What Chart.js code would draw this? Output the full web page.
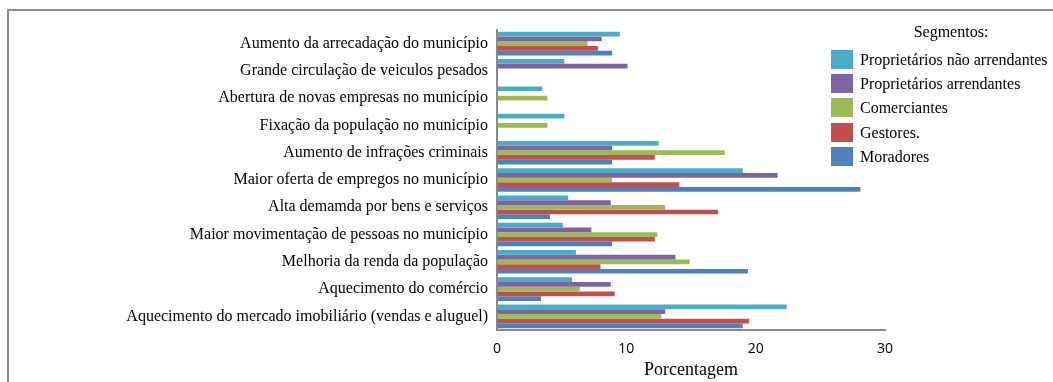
<!DOCTYPE html>
<html lang="pt">
<head>
<meta charset="utf-8">
<script src="https://cdn.jsdelivr.net/npm/chart.js@4/dist/chart.umd.min.js"></script>
<style>
  html, body { margin: 0; padding: 0; background: #fff; }
  #wrap { position: relative; width: 1053px; height: 382px; overflow: hidden; }
  #frame { position: absolute; left: 7px; top: 9px; right: -4px; bottom: -4px;
           border-left: 2px solid #8c8c8c; border-top: 2px solid #8c8c8c; }
  #chart { position: absolute; left: 0; top: 0; }
  #legend { position: absolute; left: 831px; top: 0; font-family: "Liberation Serif", "Times New Roman", serif;
            font-size: 16px; color: #000; }
  #legend .title { position: absolute; left: 0; width: 242px; top: 23px; text-align: center; white-space: nowrap; }
  #legend .item { position: absolute; left: 0; height: 19px; white-space: nowrap; }
  #legend .box { position: absolute; left: 0; top: 0; width: 22px; height: 19px; }
  #legend .lbl { position: absolute; left: 29px; top: 0; line-height: 19px; }
</style>
</head>
<body>
<div id="wrap">
  <div id="frame"></div>
  <canvas id="chart" width="1053" height="382"></canvas>
  <div id="legend"></div>
</div>
<script>
// Impactos percebidos, por segmento (%)
const categories = [
  "Aumento da arrecadação do município",
  "Grande circulação de veiculos pesados",
  "Abertura de novas empresas no município",
  "Fixação da população no município",
  "Aumento de infrações criminais",
  "Maior oferta de empregos no município",
  "Alta demamda por bens e serviços",
  "Maior movimentação de pessoas no município",
  "Melhoria da renda da população",
  "Aquecimento do comércio",
  "Aquecimento do mercado imobiliário (vendas e aluguel)"
];
const seriesNames = [
  "Proprietários não arrendantes",
  "Proprietários arrendantes",
  "Comerciantes",
  "Gestores.",
  "Moradores"
];
const naoArrendantes = [9.5, 5.2, 3.5, 5.2, 12.5, 19.0, 5.5, 5.1, 6.1, 5.8, 22.4];
const arrendantes    = [8.1, 10.1, 0, 0, 8.9, 21.7, 8.8, 7.3, 13.8, 8.8, 13.0];
const comerciantes   = [7.0, 0, 3.9, 3.9, 17.6, 8.9, 13.0, 12.4, 14.9, 6.4, 12.7];
const gestores       = [7.8, 0, 0, 0, 12.2, 14.1, 17.1, 12.2, 8.0, 9.1, 19.5];
const moradores      = [8.9, 0, 0, 0, 8.9, 28.1, 4.1, 8.9, 19.4, 3.4, 19.0];
const xTicks = [0, 10, 20, 30];
const xTitle = "Porcentagem";
const legendTitle = "Segmentos:";

const colors = ["#4BACC6", "#8064A2", "#9BBB59", "#C0504D", "#4F81BD"];
const values = [naoArrendantes, arrendantes, comerciantes, gestores, moradores];

const datasets = seriesNames.map((name, i) => ({
  label: name,
  data: values[i],
  backgroundColor: colors[i],
  borderWidth: 0,
  categoryPercentage: 0.865,
  barPercentage: 1.0
}));

const serif = "'Liberation Serif', 'Times New Roman', serif";
const sans = "'Open Sans', 'Liberation Sans', sans-serif";

new Chart(document.getElementById("chart"), {
  type: "bar",
  data: { labels: categories, datasets },
  options: {
    indexAxis: "y",
    responsive: false,
    animation: false,
    events: [],
    layout: { padding: { top: 30, right: 168, bottom: 0, left: 0 } },
    plugins: { legend: { display: false }, tooltip: { enabled: false } },
    scales: {
      y: {
        grid: { display: true, color: "transparent", drawTicks: false },
        border: { display: true, color: "#8a8a8a", width: 2 },
        ticks: { color: "#000", font: { family: serif, size: 16 }, padding: 9, autoSkip: false },
        afterFit: s => { s.width = 497; }
      },
      x: {
        min: 0, max: 30,
        afterBuildTicks: s => { s.ticks = xTicks.map(v => ({ value: v })); },
        grid: { display: true, color: "transparent", drawTicks: false },
        border: { display: true, color: "#8a8a8a", width: 2 },
        ticks: { color: "#000", font: { family: sans, size: 14 }, padding: 11 },
        title: { display: true, text: xTitle, color: "#000", font: { family: serif, size: 18 }, padding: { top: 0, bottom: 1 } },
        afterFit: s => { s.height = 52; }
      }
    }
  }
});

// Legenda com título, ao lado do gráfico
const legend = document.getElementById("legend");
const t = document.createElement("div");
t.className = "title";
t.style.left = "-1px";
t.style.width = "242px";
t.textContent = legendTitle;
legend.appendChild(t);
seriesNames.forEach((name, i) => {
  const item = document.createElement("div");
  item.className = "item";
  item.style.top = (50 + i * 24.2) + "px";
  const box = document.createElement("div");
  box.className = "box";
  box.style.background = colors[i];
  const lbl = document.createElement("div");
  lbl.className = "lbl";
  lbl.textContent = name;
  item.appendChild(box);
  item.appendChild(lbl);
  legend.appendChild(item);
});
</script>
</body>
</html>
